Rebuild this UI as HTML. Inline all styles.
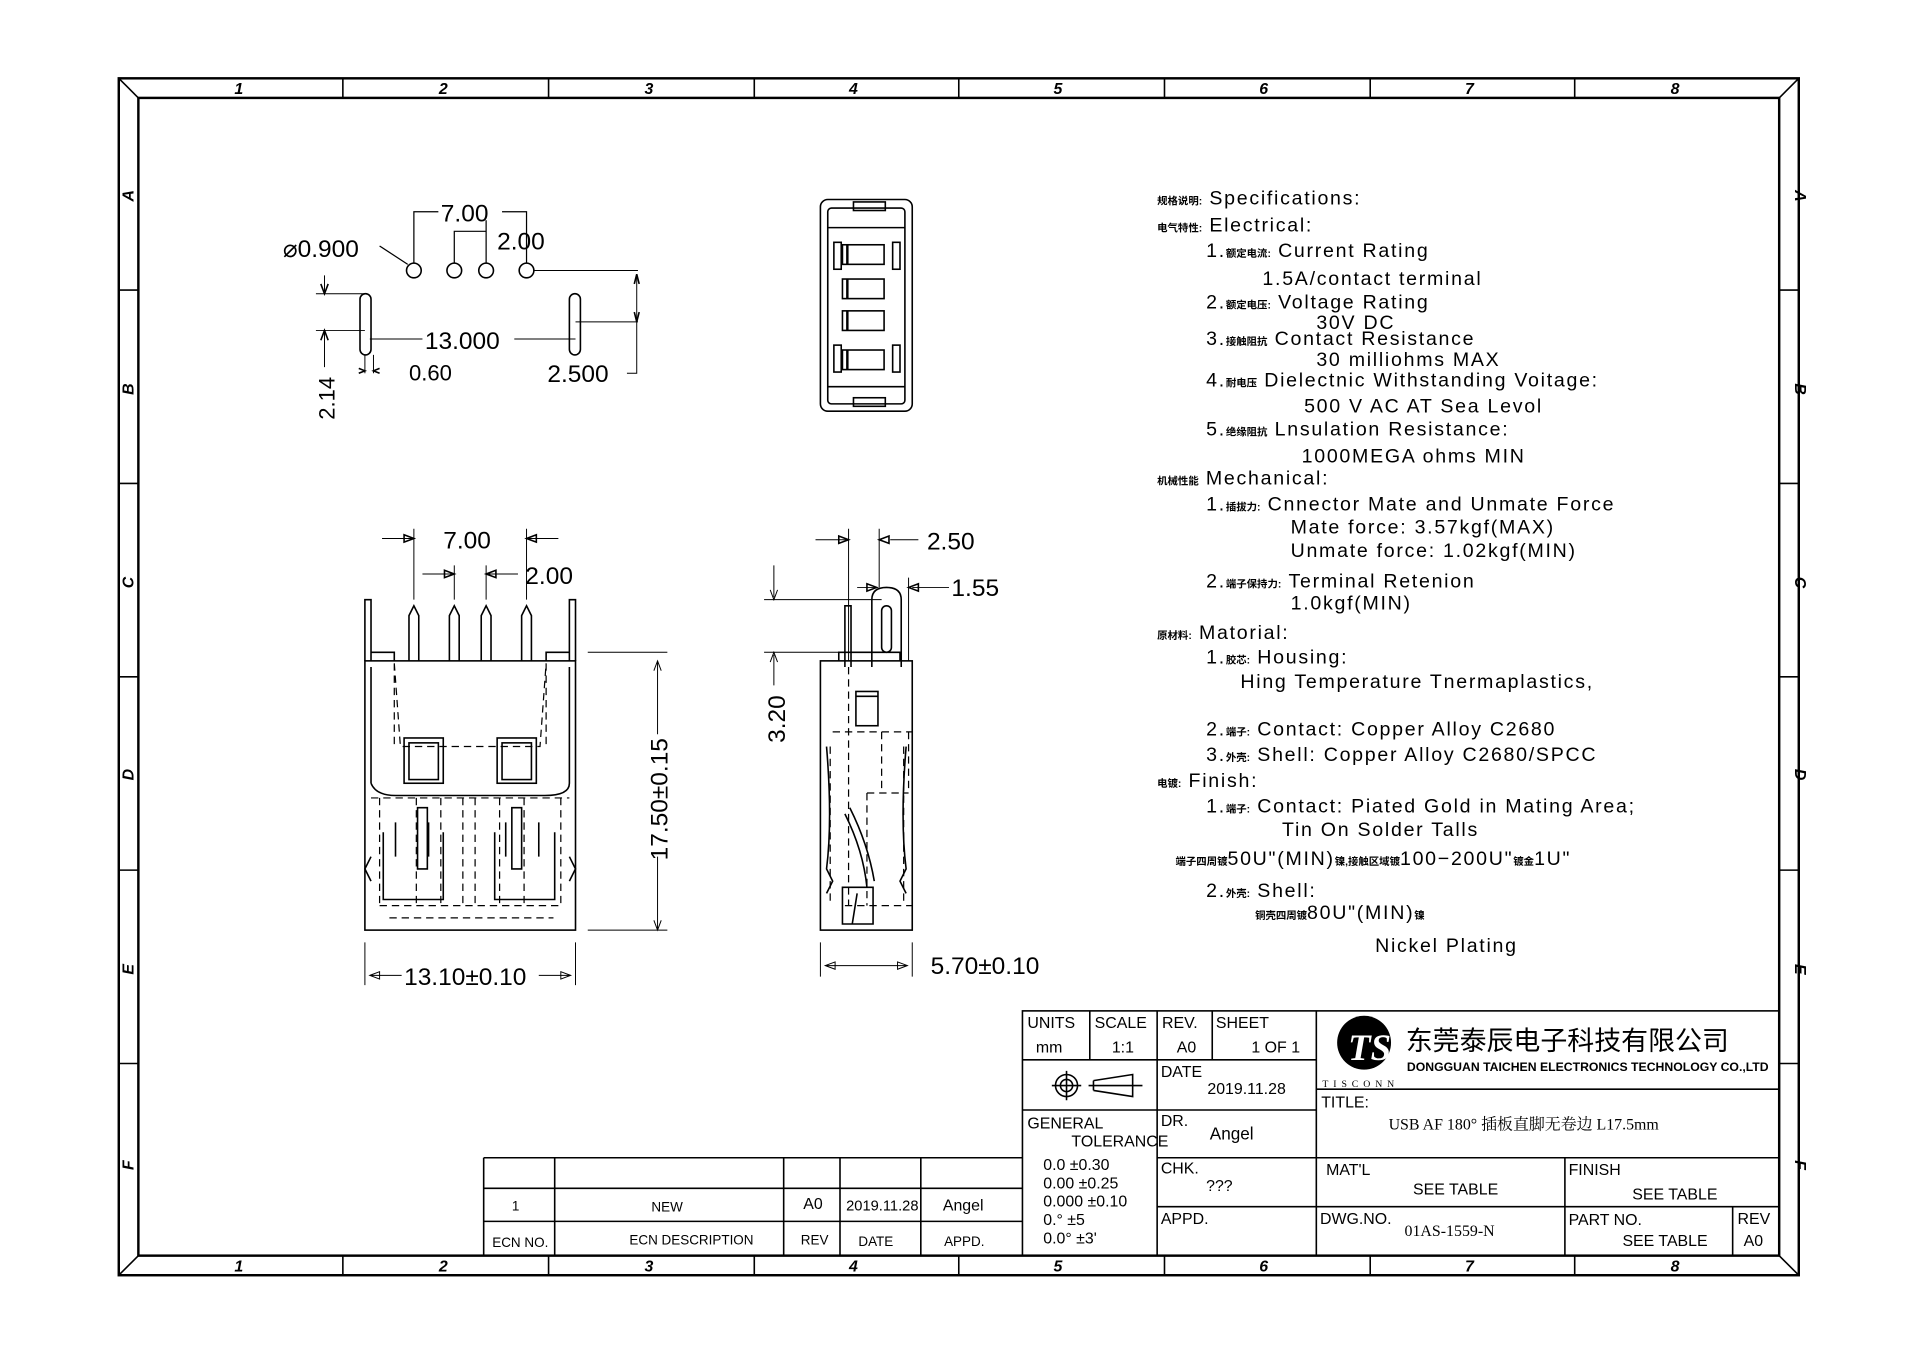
<!DOCTYPE html>
<html><head><meta charset="utf-8"><style>
html,body{margin:0;padding:0;background:#fff}
svg{display:block}
text{font-family:"Liberation Sans","Noto Sans CJK SC",sans-serif;fill:#000}
.n{font-family:"Liberation Sans Narrow","Liberation Sans","Noto Sans CJK SC",sans-serif}
.z{font-family:"Liberation Serif",serif;font-style:italic;font-weight:bold;font-size:13px}
.s{font-size:16px;letter-spacing:1.4px}
.c{font-size:8.5px;font-weight:bold;letter-spacing:0}
</style></head><body>
<svg width="1920" height="1356" viewBox="0 0 1568 1108" preserveAspectRatio="none" xmlns="http://www.w3.org/2000/svg">
<g fill="none" stroke="#000" stroke-width="1.3">
<rect x="97" y="64" width="1372" height="978" stroke-width="2"/>
<rect x="113" y="80" width="1340" height="946" stroke-width="2"/>
<line x1="97" y1="64" x2="113" y2="80"/><line x1="1469" y1="64" x2="1453" y2="80"/>
<line x1="97" y1="1042" x2="113" y2="1026"/><line x1="1469" y1="1042" x2="1453" y2="1026"/>
<path d="M280 64V80M448 64V80M616 64V80M783 64V80M951 64V80M1119 64V80M1286 64V80"/>
<path d="M280 1026V1042M448 1026V1042M616 1026V1042M783 1026V1042M951 1026V1042M1119 1026V1042M1286 1026V1042"/>
<path d="M97 237H113M97 395H113M97 553H113M97 711H113M97 869H113"/>
<path d="M1453 237H1469M1453 395H1469M1453 553H1469M1453 711H1469M1453 869H1469"/>

<rect x="835" y="826" width="618" height="200"/>
<path d="M890 826V866M945 826V1026M990 826V866M1075 826V1026M835 866H1075M835 907H1075M945 946H1075M945 986H1075"/>
<path d="M1075 890H1453M1075 946H1453M1075 986H1453M1278 946V1026M1415 986V1026"/>
<path d="M395 946H835M395 971H835M395 998H835M395 946V1026M453 946V1026M640 946V1026M686 946V1026M752 946V1026"/>
<circle cx="871" cy="887" r="9"/><circle cx="871" cy="887" r="5"/><path d="M859 887H883M871 875V899"/>
<path d="M889 887H933M893 883V891M893 883L925 878V896L893 891"/>

<circle cx="338" cy="221" r="6"/><circle cx="371" cy="221" r="6"/><circle cx="397" cy="221" r="6"/><circle cx="430" cy="221" r="6"/>
<rect x="294" y="240" width="9" height="50" rx="4.5"/><rect x="465" y="240" width="9" height="50" rx="4.5"/>
<path d="M338 215V173H358M410 173H430V215M371 215V189H397V215M397 189V180" stroke-width="1"/>
<path d="M310 201L333 216" stroke-width="1"/>
<path d="M436 221H521M470 263H521M520 224V305H512" stroke-width="0.8"/>
<path d="M258 240H298M258 270H298M265 225V238M265 272V300M298 290V305M305 290V305M302 277H345M420 277H470" stroke-width="0.8"/>
<path d="M262 232L265 240L268 232M262 278L265 270L268 278M293 301L298 303L293 305M310 301L305 303L310 305M518 232L520 224L522 232M518 255L520 263L522 255"/>

<rect x="670" y="163" width="75" height="173" rx="6"/>
<rect x="676" y="170" width="63" height="160" rx="3"/>
<path d="M676 186H739M676 316H739"/>
<rect x="697" y="165" width="26" height="7"/><rect x="697" y="325" width="26" height="7"/>
<rect x="688" y="200" width="34" height="16"/><rect x="688" y="228" width="34" height="16"/><rect x="688" y="254" width="34" height="16"/><rect x="688" y="286" width="34" height="16"/>
<path d="M692 200V216M692 228V244M692 254V270M692 286V302" stroke-width="2"/>
<rect x="681" y="198" width="6" height="22"/><rect x="729" y="198" width="6" height="22"/><rect x="681" y="282" width="6" height="22"/><rect x="729" y="282" width="6" height="22"/>

<rect x="298" y="540" width="172" height="220"/>
<path d="M298 540V490h5v50M465 540V490h5v50"/>
<path d="M303 533h19v7M465 533h-19v7"/>
<path d="M334 540V503l4-8 4 8V540M367 540V503l4-8 4 8V540M393 540V503l4-8 4 8V540M426 540V503l4-8 4 8V540"/>
<path d="M303 545V640M465 545V640M303 640q4 10 20 10H445q20 0 20-10"/>
<rect x="330" y="603" width="32" height="37"/><rect x="406" y="603" width="32" height="37"/>
<rect x="334" y="607" width="24" height="30"/><rect x="410" y="607" width="24" height="30"/>
<g stroke-dasharray="6 4" stroke-width="1">
<path d="M322 542L327 610H441L446 542M322 542V610M446 542V610"/>
<path d="M303 652H465M310 652V740M458 652V740M340 652V740M360 652V740M378 652V740M388 652V740M408 652V740M428 652V740"/>
<path d="M310 740H458M318 750H452"/>
</g>
<path d="M313 680V735H362V680M323 672V700M350 672V700M404 680V735H453V680M413 672V700M440 672V700M341 660h8v50h-8zM418 660h8v50h-8z"/>
<path d="M303 700l-5 10 5 10M465 700l5 10-5 10"/>
<path d="M480 533H545M480 760H545M537 540V600M537 700V760M534 548L537 540L540 548M534 752L537 760L540 752" stroke-width="0.8"/>
<path d="M298 770V805M470 770V805M302 797H328M440 797H466M302 797l8-3v6zM466 797l-8-3v6z" stroke-width="0.8"/>
<path d="M338 432V490M430 432V490M312 440H336M432 440H456M371 462V490M397 462V490M345 469H369M399 469H423" stroke-width="0.8"/>
<path d="M338 440l-8-3v6zM430 440l8-3v6zM371 469l-8-3v6zM397 469l8-3v6z"/>

<rect x="670" y="540" width="75" height="220"/>
<path d="M690 545V495h5v50"/>
<path d="M712 545V490q0-10 12-10q12 0 12 10V545"/>
<rect x="720" y="495" width="8" height="38" rx="4"/>
<path d="M685 540V533h50v7"/>
<rect x="699" y="565" width="18" height="28"/><path d="M699 569h18"/>
<g stroke-dasharray="6 4" stroke-width="1">
<path d="M680 598H745M693 545V740M720 598V648M742 598V648M708 648H742M708 648V740"/>
<path d="M678 610V740M738 610V740M690 740H745"/>
</g>
<path d="M675 610q5 60 0 100l5 10-5 10M740 610q-5 60 0 100l-5 10 5 10"/>
<path d="M694 660q15 30 20 60M690 665q15 30 18 60M688 725h25v30h-25zM700 730l-4 25"/>
<path d="M693 432V540M718 432V480M742 472V540M666 441H691M727 441H750M700 480H716M745 480H775" stroke-width="0.8"/>
<path d="M693 441l-8-3v6zM718 441l8-3v6zM716 480l-8-3v6zM742 480l8-3v6z"/>
<path d="M624 490H720M624 533H690M632 462V488M632 535V560M629 482L632 490L635 482M629 541L632 533L635 541" stroke-width="0.8"/>
<path d="M670 770V798M745 770V798M674 789H741M674 789l8-3v6zM741 789l-8-3v6z" stroke-width="0.8"/>
</g>

<circle cx="1114" cy="852" r="22" fill="#000"/>
<text x="1101" y="866" font-size="30" font-weight="bold" font-style="italic" fill="#fff" style="fill:#fff;font-family:'Liberation Serif',serif">TS</text>

<g class="z" text-anchor="middle">
<text x="195" y="77">1</text><text x="362" y="77">2</text><text x="530" y="77">3</text><text x="697" y="77">4</text><text x="864" y="77">5</text><text x="1032" y="77">6</text><text x="1200" y="77">7</text><text x="1368" y="77">8</text>
<text x="195" y="1039">1</text><text x="362" y="1039">2</text><text x="530" y="1039">3</text><text x="697" y="1039">4</text><text x="864" y="1039">5</text><text x="1032" y="1039">6</text><text x="1200" y="1039">7</text><text x="1368" y="1039">8</text>
<text transform="translate(109,160) rotate(-90)">A</text><text transform="translate(109,318) rotate(-90)">B</text><text transform="translate(109,476) rotate(-90)">C</text><text transform="translate(109,633) rotate(-90)">D</text><text transform="translate(109,792) rotate(-90)">E</text><text transform="translate(109,952) rotate(-90)">F</text>
<text transform="translate(1466,160) rotate(90)">A</text><text transform="translate(1466,318) rotate(90)">B</text><text transform="translate(1466,476) rotate(90)">C</text><text transform="translate(1466,633) rotate(90)">D</text><text transform="translate(1466,792) rotate(90)">E</text><text transform="translate(1466,952) rotate(90)">F</text>
</g>

<g font-size="20">
<text x="360" y="181">7.00</text>
<text x="406" y="204">2.00</text>
<text x="231" y="210">⌀0.900</text>
<text x="347" y="285">13.000</text>
<text x="447" y="312">2.500</text>
<text x="334" y="311" font-size="18">0.60</text>
<text transform="translate(273,343) rotate(-90)" font-size="18">2.14</text>
<text x="362" y="448">7.00</text>
<text x="429" y="477">2.00</text>
<text x="330" y="805">13.10±0.10</text>
<text transform="translate(545,703) rotate(-90)">17.50±0.15</text>
<text x="757" y="449">2.50</text>
<text x="777" y="487">1.55</text>
<text transform="translate(641,607) rotate(-90)">3.20</text>
<text x="760" y="796">5.70±0.10</text>
</g>

<g class="s">
<text x="945" y="167"><tspan class="c">规格说明:</tspan> Specifications:</text>
<text x="945" y="189"><tspan class="c">电气特性:</tspan> Electrical:</text>
<text x="985" y="210">1.<tspan class="c">额定电流:</tspan> Current  Rating</text>
<text x="1031" y="233">1.5A/contact  terminal</text>
<text x="985" y="252">2.<tspan class="c">额定电压:</tspan> Voltage  Rating</text>
<text x="1075" y="269">30V  DC</text>
<text x="985" y="282">3.<tspan class="c">接触阻抗</tspan> Contact  Resistance</text>
<text x="1075" y="299">30  milliohms  MAX</text>
<text x="985" y="316">4.<tspan class="c">耐电压</tspan> Dielectnic  Withstanding  Voitage:</text>
<text x="1065" y="337">500  V  AC  AT  Sea  Levol</text>
<text x="985" y="356">5.<tspan class="c">绝缘阻抗</tspan> Lnsulation  Resistance:</text>
<text x="1063" y="378">1000MEGA  ohms  MIN</text>
<text x="945" y="396"><tspan class="c">机械性能</tspan> Mechanical:</text>
<text x="985" y="417">1.<tspan class="c">插拔力:</tspan> Cnnector  Mate  and  Unmate  Force</text>
<text x="1054" y="436">Mate  force: 3.57kgf(MAX)</text>
<text x="1054" y="455">Unmate  force: 1.02kgf(MIN)</text>
<text x="985" y="480">2.<tspan class="c">端子保持力:</tspan> Terminal  Retenion</text>
<text x="1054" y="498">1.0kgf(MIN)</text>
<text x="945" y="522"><tspan class="c">原材料:</tspan> Matorial:</text>
<text x="985" y="542">1.<tspan class="c">胶芯:</tspan> Housing:</text>
<text x="1013" y="562">Hing  Temperature    Tnermaplastics,</text>
<text x="985" y="601">2.<tspan class="c">端子:</tspan> Contact: Copper  Alloy  C2680</text>
<text x="985" y="622">3.<tspan class="c">外壳:</tspan> Shell:  Copper  Alloy  C2680/SPCC</text>
<text x="945" y="643"><tspan class="c">电镀:</tspan> Finish:</text>
<text x="985" y="664">1.<tspan class="c">端子:</tspan> Contact:  Piated  Gold  in  Mating  Area;</text>
<text x="1047" y="683">Tin  On  Solder  Talls</text>
<text x="960" y="707"><tspan class="c">端子四周镀</tspan>50U"(MIN)<tspan class="c">镍,接触区域镀</tspan>100−200U"<tspan class="c">镀金</tspan>1U"</text>
<text x="985" y="733">2.<tspan class="c">外壳:</tspan> Shell:</text>
<text x="1025" y="751"><tspan class="c">铜壳四周镀</tspan>80U"(MIN)<tspan class="c">镍</tspan></text>
<text x="1123" y="778">Nickel  Plating</text>
</g>

<g class="n" font-size="13">
<text x="839" y="840">UNITS</text><text x="894" y="840">SCALE</text><text x="949" y="840">REV.</text><text x="993" y="840">SHEET</text>
<text x="846" y="860">mm</text><text x="908" y="860">1:1</text><text x="961" y="860">A0</text><text x="1022" y="860">1 OF 1</text>
<text x="948" y="880">DATE</text><text x="986" y="894">2019.11.28</text>
<text x="839" y="922">GENERAL</text><text x="875" y="937">TOLERANCE</text>
<text x="948" y="920">DR.</text><text x="988" y="931" font-size="14">Angel</text>
<text x="852" y="956">0.0    ±0.30</text><text x="852" y="971">0.00   ±0.25</text><text x="852" y="986">0.000 ±0.10</text>
<text x="852" y="1001">0.°   ±5</text><text x="852" y="1016">0.0°  ±3'</text>
<text x="948" y="959">CHK.</text><text x="985" y="973">???</text>
<text x="948" y="1000">APPD.</text>
<text x="1079" y="905">TITLE:</text>
<text x="1134" y="923" style="font-family:'Liberation Serif','Noto Serif CJK SC',serif">USB AF 180° 插板直脚无卷边 L17.5mm</text>
<text x="1083" y="960">MAT'L</text><text x="1154" y="976">SEE TABLE</text>
<text x="1281" y="960">FINISH</text><text x="1333" y="980">SEE TABLE</text>
<text x="1078" y="1000">DWG.NO.</text><text x="1147" y="1010" style="font-family:'Liberation Serif',serif">01AS-1559-N</text>
<text x="1281" y="1001">PART NO.</text><text x="1325" y="1018">SEE TABLE</text>
<text x="1419" y="1000">REV</text><text x="1424" y="1018">A0</text>
<text x="1080" y="888" font-size="8" letter-spacing="4" style="font-family:'Liberation Serif',serif">TISCONN</text>
<text x="1148" y="858" font-size="22" style="font-family:'Noto Sans CJK SC',sans-serif">东莞泰辰电子科技有限公司</text>
<text x="1149" y="875" font-size="10" font-weight="bold">DONGGUAN TAICHEN ELECTRONICS TECHNOLOGY CO.,LTD</text>
<text x="418" y="989" font-size="11">1</text><text x="532" y="990" font-size="11">NEW</text><text x="656" y="988">A0</text>
<text x="691" y="989" font-size="12">2019.11.28</text><text x="770" y="989">Angel</text>
<text x="402" y="1019" font-size="11">ECN NO.</text><text x="514" y="1017" font-size="11">ECN  DESCRIPTION</text><text x="654" y="1017" font-size="11">REV</text><text x="701" y="1018" font-size="11">DATE</text><text x="771" y="1018" font-size="11">APPD.</text>
</g>
</svg>
</body></html>
